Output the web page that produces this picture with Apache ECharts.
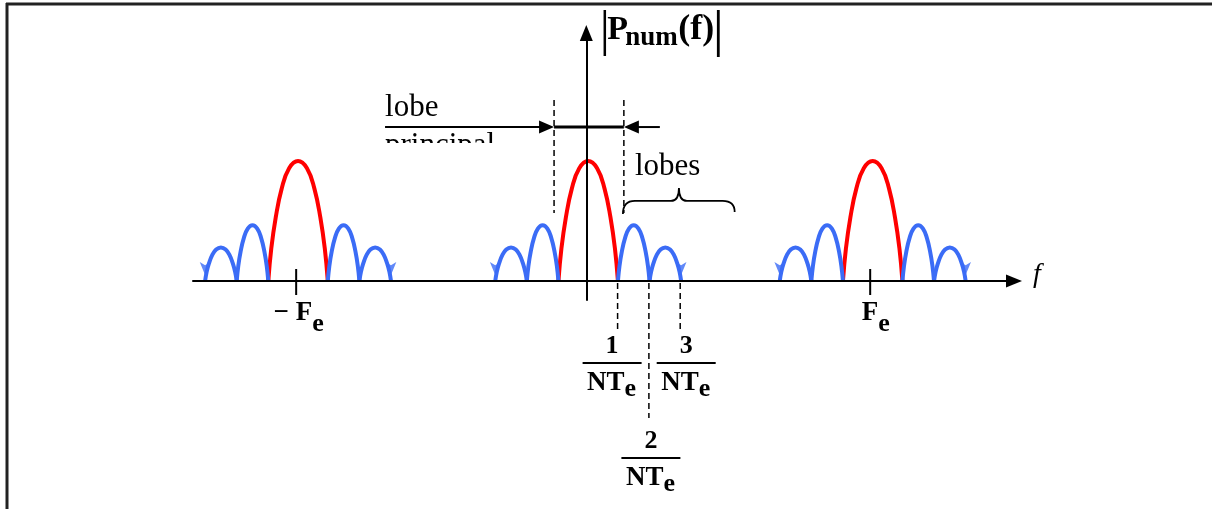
<!DOCTYPE html>
<html>
<head>
<meta charset="utf-8">
<script src="https://cdn.jsdelivr.net/npm/echarts@6/dist/echarts.min.js"></script>
<style>
  html, body { margin: 0; padding: 0; background: #fff; }
  #chart { width: 1212px; height: 509px; }
</style>
</head>
<body>
<div id="chart"></div>
<script>
// Frequency in units of 1/(N·Te); amplitude normalised to the main-lobe peak.
const spectrumCenters = [-9.21, 0.06, 9.15];          // replicas at -Fe, 0, +Fe
const feTicks = [-9.27, 9.07];                         // -Fe and +Fe tick marks
const feLabels = ['\u2212 F', 'F'];
const mainLobe = { zeros: [-0.95, 0.95], peak: 1.0 };
const sideLobes = [
  { zeros: [-2.97, -1.96], peak: 0.28 },
  { zeros: [-1.96, -0.95], peak: 0.465 },
  { zeros: [0.95, 1.96], peak: 0.465 },
  { zeros: [1.96, 2.97], peak: 0.28 }
];
// Arch shape of one lobe: [fraction of the way from zero to crest, fraction of crest height]
const archProfile = [
  [0, 0], [0.1, 0.27], [0.25, 0.53], [0.45, 0.77], [0.7, 0.94], [1, 1]
];
const harmonics = [1, 2, 3];                           // k / (N·Te)
const mainWidthMarks = [-1.03, 1.2];                   // dashed bounds of the main lobe

const RED = '#ff0000';
const BLUE = '#3b6cf6';
const SERIF = '"Liberation Serif", "Times New Roman", serif';

function lobePoints(lobe, shift) {
  const a = lobe.zeros[0], b = lobe.zeros[1];
  const half = (b - a) / 2;
  const pts = archProfile.map(([f, g]) => [a + f * half + shift, g * lobe.peak]);
  for (let i = archProfile.length - 2; i >= 0; i--) {
    const [f, g] = archProfile[i];
    pts.push([b - f * half + shift, g * lobe.peak]);
  }
  return pts;
}

function lobeSeries(lobe, shift, color) {
  return {
    type: 'line',
    data: lobePoints(lobe, shift),
    smooth: 0.45,
    symbol: 'none',
    silent: true,
    z: 3,
    lineStyle: { color: color, width: 4 }
  };
}

const series = [];
spectrumCenters.forEach(c => {
  series.push(lobeSeries(mainLobe, c, RED));
  sideLobes.forEach(l => series.push(lobeSeries(l, c, BLUE)));
});

// arrow tips on the outermost side lobes
const tipData = [];
spectrumCenters.forEach(c => {
  tipData.push([c + sideLobes[0].zeros[0], 0]);
  tipData.push([c + sideLobes[sideLobes.length - 1].zeros[1], 0]);
});
series.push({
  type: 'scatter',
  data: tipData,
  symbol: 'arrow',
  symbolSize: [8, 13],
  symbolRotate: 180,
  symbolOffset: [0, -6],
  silent: true,
  z: 4,
  itemStyle: { color: BLUE }
});

function renderNotes(params, api) {
  const pt = (x, y) => api.coord([x, y]);
  const kids = [];
  const seg = (p, q, w, dash) => kids.push({
    type: 'line',
    shape: { x1: p[0], y1: p[1], x2: q[0], y2: q[1] },
    style: { stroke: '#000', lineWidth: w, lineDash: dash || null }
  });
  const txt = (s, x, y, font, align) => kids.push({
    type: 'text',
    z2: 10,
    style: { text: s, x: x, y: y, font: font, fill: '#000', align: align || 'left', verticalAlign: 'middle' }
  });
  const tri = (points) => kids.push({ type: 'polygon', shape: { points: points }, style: { fill: '#000' } });
  const axisY = pt(0, 0)[1];
  const DASH = [6, 4];

  // main lobe bounds and width arrow
  mainWidthMarks.forEach(x => seg(pt(x, 1.508), pt(x, 0.567), 1.5, DASH));
  const arrowY = pt(0, 1.283)[1];
  const xl = pt(mainWidthMarks[0], 0)[0];
  const xr = pt(mainWidthMarks[1], 0)[0];
  const xStart = pt(-6.43, 0)[0];
  const xEnd = pt(2.35, 0)[0];
  seg([xStart, arrowY], [xl - 8, arrowY], 2);
  seg([xl, arrowY], [xr, arrowY], 3);
  seg([xr + 8, arrowY], [xEnd, arrowY], 2);
  tri([[xl, arrowY], [xl - 15, arrowY - 6.5], [xl - 15, arrowY + 6.5]]);
  tri([[xr, arrowY], [xr + 15, arrowY - 6.5], [xr + 15, arrowY + 6.5]]);
  txt('lobe', xStart, arrowY - 19.5, '31px ' + SERIF);
  txt('principal', xStart, arrowY + 18.5, '31px ' + SERIF);
  kids.push({ type: 'rect', z2: 20, shape: { x: xStart - 6, y: arrowY + 16, width: 135, height: 30 }, style: { fill: '#fff' } });

  // side-lobe brace
  const bl = pt(1.17, 0.558), bt = pt(2.96, 0.775), br = pt(4.74, 0.575);
  const hy = pt(0, 0.667)[1];
  const d = 'M' + bl[0] + ' ' + bl[1] +
    ' Q' + bl[0] + ' ' + hy + ' ' + (bl[0] + 12) + ' ' + hy +
    ' L' + (bt[0] - 8) + ' ' + hy +
    ' Q' + bt[0] + ' ' + hy + ' ' + bt[0] + ' ' + bt[1] +
    ' Q' + bt[0] + ' ' + hy + ' ' + (bt[0] + 8) + ' ' + hy +
    ' L' + (br[0] - 12) + ' ' + hy +
    ' Q' + br[0] + ' ' + hy + ' ' + br[0] + ' ' + br[1];
  kids.push({ type: 'path', shape: { pathData: d }, style: { stroke: '#000', lineWidth: 1.8, fill: null } });
  txt('lobes', bl[0] + 12, hy - 34.5, '31px ' + SERIF);

  // k/(N·Te) markers and fraction labels
  const fracShift = { 1: -5.5, 2: 2, 3: 6 };
  harmonics.forEach(k => {
    const x = pt(k, 0)[0];
    const long = k % 2 === 0;
    seg([x, axisY + 2], [x, axisY + (long ? 137 : 50)], 1.5, DASH);
    const cx = x + fracShift[k];
    const barY = axisY + (long ? 177 : 82);
    seg([cx - 29.5, barY], [cx + 29.5, barY], 1.8);
    txt(String(k), cx, barY - 17, 'bold 26px ' + SERIF, 'center');
    const split = cx + 12.5;
    txt('NT', split, barY + 20.5, 'bold 27px ' + SERIF, 'right');
    txt('e', split, barY + 26.5, 'bold 26px ' + SERIF, 'left');
  });

  // ±Fe ticks and labels
  const feSplit = [16, 8];
  feTicks.forEach((f, i) => {
    const x = pt(f, 0)[0];
    seg([x, axisY - 12], [x, axisY + 14], 2);
    const s = x + feSplit[i];
    txt(feLabels[i], s, axisY + 32, 'bold 27px ' + SERIF, 'right');
    txt('e', s, axisY + 43, 'bold 26px ' + SERIF, 'left');
  });

  // |P_num(f)| heading next to the amplitude axis
  const top = pt(0, 2.0667);
  seg([top[0] + 18.5, top[1] - 23], [top[0] + 18.5, top[1] + 23], 2.5);
  seg([top[0] + 132, top[1] - 23], [top[0] + 132, top[1] + 24], 2.8);
  txt('P', top[0] + 21, top[1] - 2.5, 'bold 34px ' + SERIF);
  txt('num', top[0] + 39, top[1] + 5, 'bold 27px ' + SERIF);
  txt('(f)', top[0] + 92, top[1] - 3.3, 'bold 36px ' + SERIF);

  // frequency axis name
  const end = pt(13.665, 0);
  txt('f', end[0] + 19, axisY - 6.5, 'italic 28px ' + SERIF);

  return { type: 'group', children: kids };
}

series.push({
  type: 'custom',
  data: [[0, 0]],
  renderItem: renderNotes,
  clip: false,
  silent: true,
  z: 6
});

const axisLineStyle = { color: '#000', width: 2 };
const chart = echarts.init(document.getElementById('chart'), null, { renderer: 'canvas' });
chart.setOption({
  backgroundColor: '#fff',
  animation: false,
  grid: { left: 193, right: 198, top: 33, bottom: 209, containLabel: false, outerBoundsMode: 'none' },
  xAxis: {
    type: 'value', min: -12.566, max: 13.665, z: 5,
    axisLine: { onZero: true, lineStyle: axisLineStyle, symbol: ['none', 'triangle'], symbolSize: [13, 16] },
    axisTick: { show: false }, axisLabel: { show: false }, splitLine: { show: false }
  },
  yAxis: {
    type: 'value', min: -0.1583, max: 2.0667, z: 5,
    axisLine: { onZero: true, lineStyle: axisLineStyle, symbol: ['none', 'triangle'], symbolSize: [13, 16] },
    axisTick: { show: false }, axisLabel: { show: false }, splitLine: { show: false }
  },
  graphic: [
    { type: 'line', shape: { x1: 6, y1: 4, x2: 1212, y2: 4 }, style: { stroke: '#222', lineWidth: 3 } },
    { type: 'line', shape: { x1: 7, y1: 3, x2: 7, y2: 509 }, style: { stroke: '#222', lineWidth: 3 } }
  ],
  series: series
});
</script>
</body>
</html>
